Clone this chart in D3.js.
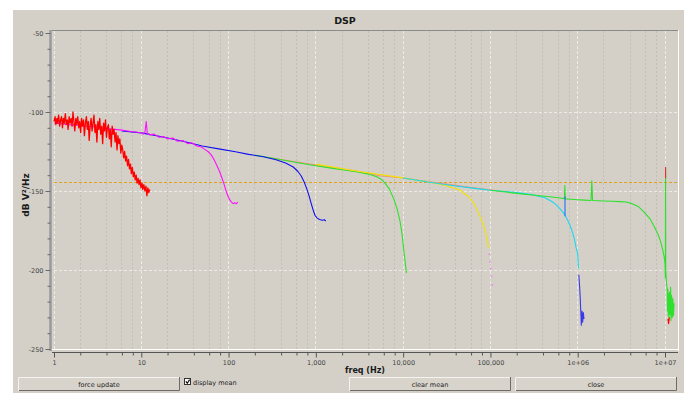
<!DOCTYPE html>
<html>
<head>
<meta charset="utf-8">
<script src="https://cdn.jsdelivr.net/npm/d3@7"></script>
<style>
  body { margin: 0; background: #ffffff; }
  svg { display: block; font-family: "DejaVu Sans", sans-serif; }
</style>
</head>
<body>
<svg id="chart" width="691" height="393"></svg>
<script>
// spectrum traces, [freq Hz, dB V²/Hz]
const redTrace = [
  [1.00,-106],[1.03,-103],[1.05,-108],[1.08,-104],[1.10,-107],[1.13,-102],[1.16,-109],[1.19,-105],
  [1.22,-103],[1.25,-110],[1.28,-104],[1.31,-107],[1.35,-101],[1.38,-108],[1.42,-105],[1.45,-111],
  [1.49,-103],[1.53,-107],[1.57,-104],[1.61,-109],[1.65,-100],[1.69,-106],[1.73,-112],[1.78,-104],
  [1.82,-108],[1.87,-103],[1.92,-110],[1.97,-106],[2.02,-113],[2.07,-104],[2.12,-109],[2.18,-105],
  [2.23,-115],[2.29,-107],[2.35,-103],[2.41,-111],[2.47,-106],[2.53,-118],[2.60,-108],[2.66,-104],
  [2.73,-112],[2.80,-107],[2.87,-102],[2.95,-113],[3.02,-108],[3.10,-119],[3.18,-106],[3.26,-111],
  [3.34,-104],[3.43,-114],[3.52,-109],[3.61,-120],[3.70,-107],[3.79,-112],[3.89,-105],[3.99,-116],
  [4.09,-110],[4.20,-108],[4.30,-117],[4.41,-111],[4.53,-122],[4.64,-109],[4.76,-114],[4.88,-111],
  [5.01,-119],[5.14,-113],[5.27,-124],[5.40,-115],[5.54,-120],[5.68,-117],[5.83,-126],[5.98,-121],
  [6.13,-124],[6.29,-129],[6.45,-125],[6.61,-131],[6.78,-128],[6.96,-134],[7.14,-130],[7.32,-136],
  [7.51,-133],[7.70,-139],[7.90,-135],[8.10,-141],[8.31,-138],[8.52,-143],[8.74,-140],[8.96,-145],
  [9.19,-142],[9.43,-146],[9.67,-143],[9.92,-148],[10.2,-145],[10.4,-149],[10.7,-146],[11.0,-150],
  [11.3,-147],[11.6,-153],[11.9,-148],[12.2,-151],[12.5,-149]
];
const magentaTrace = [
  [1.0,-107],[1.5,-108],[2,-108.5],[3,-109.5],[4,-110.5],[5,-111],[6,-111.5],[7,-112],[8,-112.5],
  [9,-112.8],[10,-113],[10.5,-114],[11,-113],[11.4,-106],[11.7,-113.5],[12.5,-114.5],[14,-114],
  [16,-116],[18,-115.5],[20,-117],[23,-116.5],[26,-118.5],[30,-118],[34,-120],[38,-119.5],[43,-121.5],
  [48,-122],[53,-123.5],[58,-125],[63,-127],[68,-130],[73,-133.5],[78,-137],[83,-141],[88,-145],
  [93,-149.5],[98,-153],[103,-155.5],[108,-157],[113,-158],[118,-157.5],[123,-158],[128,-157]
];
const blueTrace = [
  [6,-112],[10,-113.2],[12,-114],[15,-115],[20,-116.5],[30,-118.5],[50,-121.5],[80,-123.5],
  [120,-125.2],[170,-126.8],[250,-128.3],[350,-130.2],[450,-132.3],[550,-134.8],[620,-137.5],
  [680,-140.5],[730,-144],[780,-148],[830,-152.5],[880,-157.5],[930,-162],[980,-165.5],
  [1030,-167],[1100,-168],[1180,-168.5],[1250,-168.2],[1300,-169]
];
const salmonTrace = [
  [300,-129],[1000,-133.5],[3000,-137.5],[5400,-140.3],[1e4,-141.8],[2e4,-144.2],[3e4,-145.5],
  [5e4,-147.2],[8e4,-148.6],[1.2e5,-149.8]
];
const greenLowTrace = [
  [200,-127.3],[400,-130.2],[700,-132.6],[1000,-134],[1500,-135.5],[2000,-136.6],[3000,-138],
  [4000,-139.3],[5000,-141],[5600,-142.5],[6200,-145],[7000,-149],[7800,-155],[8500,-161],
  [9200,-169],[9700,-177],[1.01e4,-186],[1.05e4,-194],[1.09e4,-202]
];
const yellowTrace = [
  [1e3,-133],[3e3,-137.5],[1e4,-141.7],[2e4,-144.5],[3e4,-146.3],[4.5e4,-149.5],[5.6e4,-153.5],
  [6.5e4,-158],[7.3e4,-164],[8e4,-169],[8.7e4,-175],[9.2e4,-181],[9.5e4,-186]
];
const pinkDots = [[9.7e4,-190],[9.9e4,-195],[1.01e5,-199],[1.03e5,-204],[1.05e5,-209.5]];
const cyanTrace = [
  [1e4,-141.8],[2e4,-144.5],[4e4,-146.8],[7e4,-148.5],[1e5,-149.5],[1.5e5,-150.3],[2e5,-151],
  [3e5,-152.3],[4.2e5,-154.3],[5e5,-156.5],[5.6e5,-158.5],[6.2e5,-161],[6.8e5,-163.5],[7.1e5,-165],
  [7.6e5,-168],[8.2e5,-172],[8.7e5,-176],[9.2e5,-181],[9.6e5,-186],[1e6,-190],[1.01e6,-195],[1.02e6,-199]
];
const blueTail = [
  [1.03e6,-203],[1.05e6,-210],[1.07e6,-218],[1.08e6,-224],[1.09e6,-229],[1.1e6,-235],[1.12e6,-226],
  [1.14e6,-233],[1.16e6,-227],[1.18e6,-231]
];
const blueSpike = [[7.15e5,-153.5],[7.15e5,-166]];
const greenHighTrace = [
  [1e5,-149.5],[2e5,-151.5],[3e5,-152.5],[4.5e5,-153.5],[6e5,-154.3],[7.05e5,-154.8],[7.12e5,-146.5],
  [7.2e5,-155],[8.5e5,-155.2],[1e6,-155.5],[1.2e6,-155.8],[1.42e6,-156],[1.45e6,-143.5],[1.48e6,-156],
  [2e6,-156.3],[2.5e6,-156.5],[3e6,-156.7],[3.6e6,-157],[4.2e6,-158],[5e6,-160],[5.8e6,-163.5],
  [6.8e6,-168],[7.6e6,-173],[8.4e6,-178],[8.9e6,-182],[9.4e6,-187],[9.8e6,-192],[1.0e7,-196],
  [1.01e7,-205],[1.015e7,-136],[1.02e7,-200],[1.04e7,-208],[1.06e7,-213],[1.07e7,-226],[1.08e7,-212],
  [1.09e7,-229],[1.10e7,-215],[1.11e7,-231],[1.13e7,-214],[1.14e7,-228],[1.16e7,-211],[1.17e7,-232],
  [1.19e7,-216],[1.21e7,-230],[1.23e7,-218],[1.25e7,-229],[1.27e7,-221]
];
const redHighTrace = [[1.014e7,-141],[1.015e7,-135],[1.016e7,-142]];
const redEndTrace = [[1.08e7,-231],[1.1e7,-234],[1.12e7,-230]];
const meanLevel = -144.3;

const yTickValues = [-50, -100, -150, -200, -250];
const xTickValues = [1, 10, 100, 1e3, 1e4, 1e5, 1e6, 1e7];
const xTickLabels = ["1", "10", "100", "1,000", "10,000", "100,000", "1e+06", "1e+07"];
const buttonLabels = ["force update", "clear mean", "close"];

const series = [
  { data: salmonTrace, color: "#f0907a" },
  { data: greenLowTrace, color: "#2ee02e" },
  { data: yellowTrace, color: "#f2e200" },
  { data: cyanTrace, color: "#1ad8f0" },
  { data: greenHighTrace, color: "#2ee02e" },
  { data: blueSpike, color: "#1f6fff" },
  { data: blueTail, color: "#3a3ae8" },
  { data: blueTrace, color: "#1010f0" },
  { data: magentaTrace, color: "#ff10ff" },
  { data: redTrace, color: "#ff0000" },
  { data: redHighTrace, color: "#e83030" },
  { data: redEndTrace, color: "#ff0000" }
];

const svg = d3.select("#chart");
const bg = "#d4d0c8";

// window panel
svg.append("rect").attr("x", 13).attr("y", 10).attr("width", 671).attr("height", 383).attr("fill", bg);

svg.append("text")
  .attr("x", 345).attr("y", 24)
  .attr("text-anchor", "middle")
  .style("font-size", "9.5px").style("font-weight", "bold")
  .attr("fill", "#1a1a1a")
  .text("DSP");

const plot = { left: 52, top: 30, right: 678, bottom: 351 };

const x = d3.scaleLog().domain([1, 1e7]).range([54, 665]);
const y = d3.scaleLinear().domain([-50, -250]).range([33, 349]);

// grid
const grid = svg.append("g");
const minorX = [];
for (let k = 0; k <= 6; k++) [2, 4, 6, 8].forEach(m => minorX.push(m * Math.pow(10, k)));

grid.selectAll(".minor").data(minorX).join("line")
  .attr("x1", d => x(d)).attr("x2", d => x(d))
  .attr("y1", plot.top + 1).attr("y2", plot.bottom - 1)
  .attr("stroke", "#c3bfb7").attr("stroke-width", 1)
  .attr("stroke-dasharray", "2,2")
  .attr("shape-rendering", "crispEdges");

grid.selectAll(".major").data(xTickValues).join("line")
  .attr("x1", d => x(d)).attr("x2", d => x(d))
  .attr("y1", plot.top + 1).attr("y2", plot.bottom - 1)
  .attr("stroke", "#ecebe6").attr("stroke-width", 1)
  .attr("stroke-dasharray", "3,2")
  .attr("shape-rendering", "crispEdges");

grid.selectAll(".hmajor").data(yTickValues.slice(1)).join("line")
  .attr("x1", plot.left + 2).attr("x2", plot.right - 1)
  .attr("y1", d => y(d)).attr("y2", d => y(d))
  .attr("stroke", "#ecebe6").attr("stroke-width", 1)
  .attr("stroke-dasharray", "3,2")
  .attr("shape-rendering", "crispEdges");

// mean line
svg.append("line")
  .attr("x1", plot.left + 2).attr("x2", plot.right - 1)
  .attr("y1", Math.round(y(meanLevel)) + 0.5).attr("y2", Math.round(y(meanLevel)) + 0.5)
  .attr("stroke", "#e0a020").attr("stroke-width", 1)
  .attr("stroke-dasharray", "3,2");

// traces
svg.append("clipPath").attr("id", "clip")
  .append("rect").attr("x", plot.left).attr("y", plot.top)
  .attr("width", plot.right - plot.left).attr("height", plot.bottom - plot.top);

const line = d3.line().x(d => x(d[0])).y(d => y(d[1]));
const traces = svg.append("g").attr("clip-path", "url(#clip)");

traces.selectAll("path").data(series).join("path")
  .attr("d", d => line(d.data))
  .attr("fill", "none")
  .attr("stroke", d => d.color)
  .attr("stroke-width", d => d.data === redTrace ? 1.3 : 1.1)
  .attr("stroke-linejoin", "round");

traces.selectAll("rect.dot").data(pinkDots).join("rect")
  .attr("class", "dot")
  .attr("x", d => x(d[0]) - 0.8).attr("y", d => y(d[1]) - 0.8)
  .attr("width", 1.6).attr("height", 1.6)
  .attr("fill", "#ef86ef");

// plot frame (sunken)
svg.append("line").attr("x1", plot.left).attr("x2", plot.right).attr("y1", plot.top).attr("y2", plot.top)
  .attr("stroke", "#8a8a8a").attr("shape-rendering", "crispEdges");
svg.append("line").attr("x1", plot.right).attr("x2", plot.right).attr("y1", plot.top).attr("y2", plot.bottom)
  .attr("stroke", "#ffffff").attr("shape-rendering", "crispEdges");
svg.append("line").attr("x1", plot.left).attr("x2", plot.right).attr("y1", plot.bottom - 1.5).attr("y2", plot.bottom - 1.5)
  .attr("stroke", "#ffffff").attr("shape-rendering", "crispEdges");

// y axis
const yAxis = d3.axisLeft(y)
  .tickValues(d3.range(-50, -251, -10))
  .tickSize(2)
  .tickFormat(d => yTickValues.includes(d) ? d : "");
const yg = svg.append("g").attr("transform", "translate(50.5,0)").call(yAxis);
yg.select(".domain").attr("stroke", "#9a9a9a").attr("stroke-width", 2.5)
  .attr("d", `M0,${plot.top}V${plot.bottom}`);
yg.selectAll(".tick line").attr("stroke", "#6a6a6a")
  .attr("x2", d => yTickValues.includes(d) ? -5 : -3);
yg.selectAll(".tick text").attr("x", -7)
  .style("font-size", "6.5px").style("font-family", "DejaVu Sans").attr("fill", "#444");

// x axis
const minorTicks = minorX.concat(xTickValues);
const xAxis = d3.axisBottom(x)
  .tickValues(minorTicks)
  .tickSize(3)
  .tickFormat(d => { const i = xTickValues.indexOf(d); return i >= 0 ? xTickLabels[i] : ""; });
const xg = svg.append("g").attr("transform", "translate(0,352.5)").call(xAxis);
xg.select(".domain").attr("stroke", "#555").attr("stroke-width", 1)
  .attr("d", `M${plot.left},0H${plot.right}`);
xg.selectAll(".tick line").attr("stroke", "#555")
  .attr("y2", d => xTickValues.includes(d) ? 5 : 3);
xg.selectAll(".tick text").attr("y", 8)
  .style("font-size", "6.5px").style("font-family", "DejaVu Sans").attr("fill", "#444");

svg.append("text")
  .attr("x", 365).attr("y", 373)
  .attr("text-anchor", "middle")
  .style("font-size", "8px").style("font-weight", "bold")
  .attr("fill", "#1a1a1a")
  .text("freq (Hz)");

svg.append("text")
  .attr("transform", "translate(29,195) rotate(-90)")
  .attr("text-anchor", "middle")
  .style("font-size", "9px").style("font-weight", "bold")
  .attr("fill", "#1a1a1a")
  .text("dB V²/Hz");

// buttons
const buttons = [
  { label: buttonLabels[0], x0: 18, x1: 180 },
  { label: buttonLabels[1], x0: 349, x1: 511 },
  { label: buttonLabels[2], x0: 515, x1: 677 }
];
const bt = 377, bb = 391;
const bgG = svg.selectAll("g.button").data(buttons).join("g").attr("class", "button");
bgG.append("rect").attr("x", d => d.x0).attr("y", bt).attr("width", d => d.x1 - d.x0).attr("height", bb - bt)
  .attr("fill", "#d8d4cc");
bgG.append("path").attr("d", d => `M${d.x0 + 0.5},${bb}V${bt + 0.5}H${d.x1}`)
  .attr("fill", "none").attr("stroke", "#f4f3f0");
bgG.append("path").attr("d", d => `M${d.x0 + 1},${bb - 0.5}H${d.x1 - 0.5}V${bt}`)
  .attr("fill", "none").attr("stroke", "#6e6c68");
bgG.append("text")
  .attr("x", d => (d.x0 + d.x1) / 2).attr("y", 386.5)
  .attr("text-anchor", "middle")
  .style("font-size", "6.5px").attr("fill", "#222")
  .text(d => d.label);

// checkbox
svg.append("rect").attr("x", 184.5).attr("y", 378.5).attr("width", 6).attr("height", 6)
  .attr("fill", "#ffffff").attr("stroke", "#333").attr("stroke-width", 1);
svg.append("path").attr("d", "M185.8,381.3 L187.3,383.2 L189.6,379.6")
  .attr("fill", "none").attr("stroke", "#111").attr("stroke-width", 1.2);
svg.append("text").attr("x", 193).attr("y", 384.5)
  .style("font-size", "6.5px").attr("fill", "#222")
  .text("display mean");
</script>
</body>
</html>
